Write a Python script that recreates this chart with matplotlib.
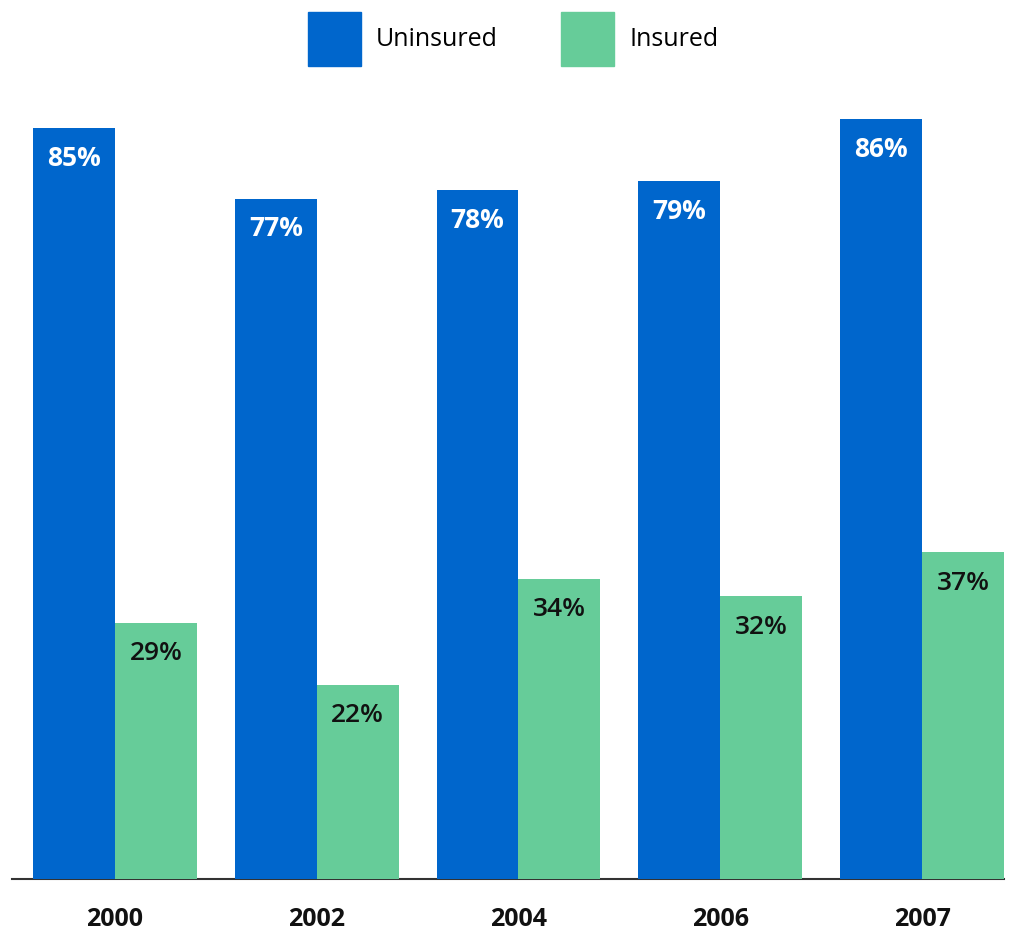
#!/usr/bin/python

#-------------------#
# Import
#-------------------#
import numpy as np
import matplotlib.pyplot as plt
from matplotlib.patches import Patch

#-------------------#
# Setting Font
#-------------------#
plt.rcParams['font.family'] = ['Open Sans', 'DejaVu Sans']

#-------------------#
# Data
#-------------------#
years = ['2000', '2002', '2004', '2006', '2007']
uninsured = [85, 77, 78, 79, 86]
insured = [29, 22, 34, 32, 37]

c_unins = '#0066CC'
c_ins = '#66CC99'

#-------------------#
# Plot
#-------------------#
W, H = 1009, 932
fig = plt.figure(figsize=(W / 100, H / 100), dpi=100)
# axes in pixel terms: left 12, right 1004, bottom 879, top 84
ax = fig.add_axes([12 / W, (H - 879) / H, (1004 - 12) / W, (879 - 84) / H])

x = np.arange(len(years))
w = 0.406
b1 = ax.bar(x - w / 2, uninsured, w, color=c_unins, zorder=3)
b2 = ax.bar(x + w / 2, insured, w, color=c_ins, zorder=3)

ax.set_ylim(0, 90)
ax.set_xlim(-0.51, len(years) - 1 + w)

# value labels inside bars
for rect, v in zip(b1, uninsured):
	ax.annotate(f"{v}%", (rect.get_x() + rect.get_width() / 2, v), xytext=(0, -30),
	            textcoords='offset pixels', ha='center', va='center',
	            color='white', fontsize=19, fontweight='bold')
for rect, v in zip(b2, insured):
	ax.annotate(f"{v}%", (rect.get_x() + rect.get_width() / 2, v), xytext=(0, -31),
	            textcoords='offset pixels', ha='center', va='center',
	            color='#111111', fontsize=19, fontweight='semibold')

# axes styling
for s in ['top', 'right', 'left']:
	ax.spines[s].set_visible(False)
ax.spines['bottom'].set_color('#333333')
ax.spines['bottom'].set_linewidth(1.5)
ax.spines['bottom'].set_zorder(1)
ax.set_yticks([])
ax.set_xticks(x)
ax.set_xticklabels(years, fontsize=18, fontweight='bold', color='#111111')
ax.tick_params(axis='x', length=0, pad=20)

# legend
handles = [Patch(color=c_unins, label='Uninsured'), Patch(color=c_ins, label='Insured')]
fig.legend(handles=handles, loc='center', bbox_to_anchor=(513 / W, 1 - 39 / H), ncol=2,
           frameon=False, fontsize=18, handlelength=2.12, handleheight=2.89,
           handletextpad=0.6, columnspacing=2.56)

#-------------------#
# Save
#-------------------#
fig.savefig("out.png", dpi=100)
